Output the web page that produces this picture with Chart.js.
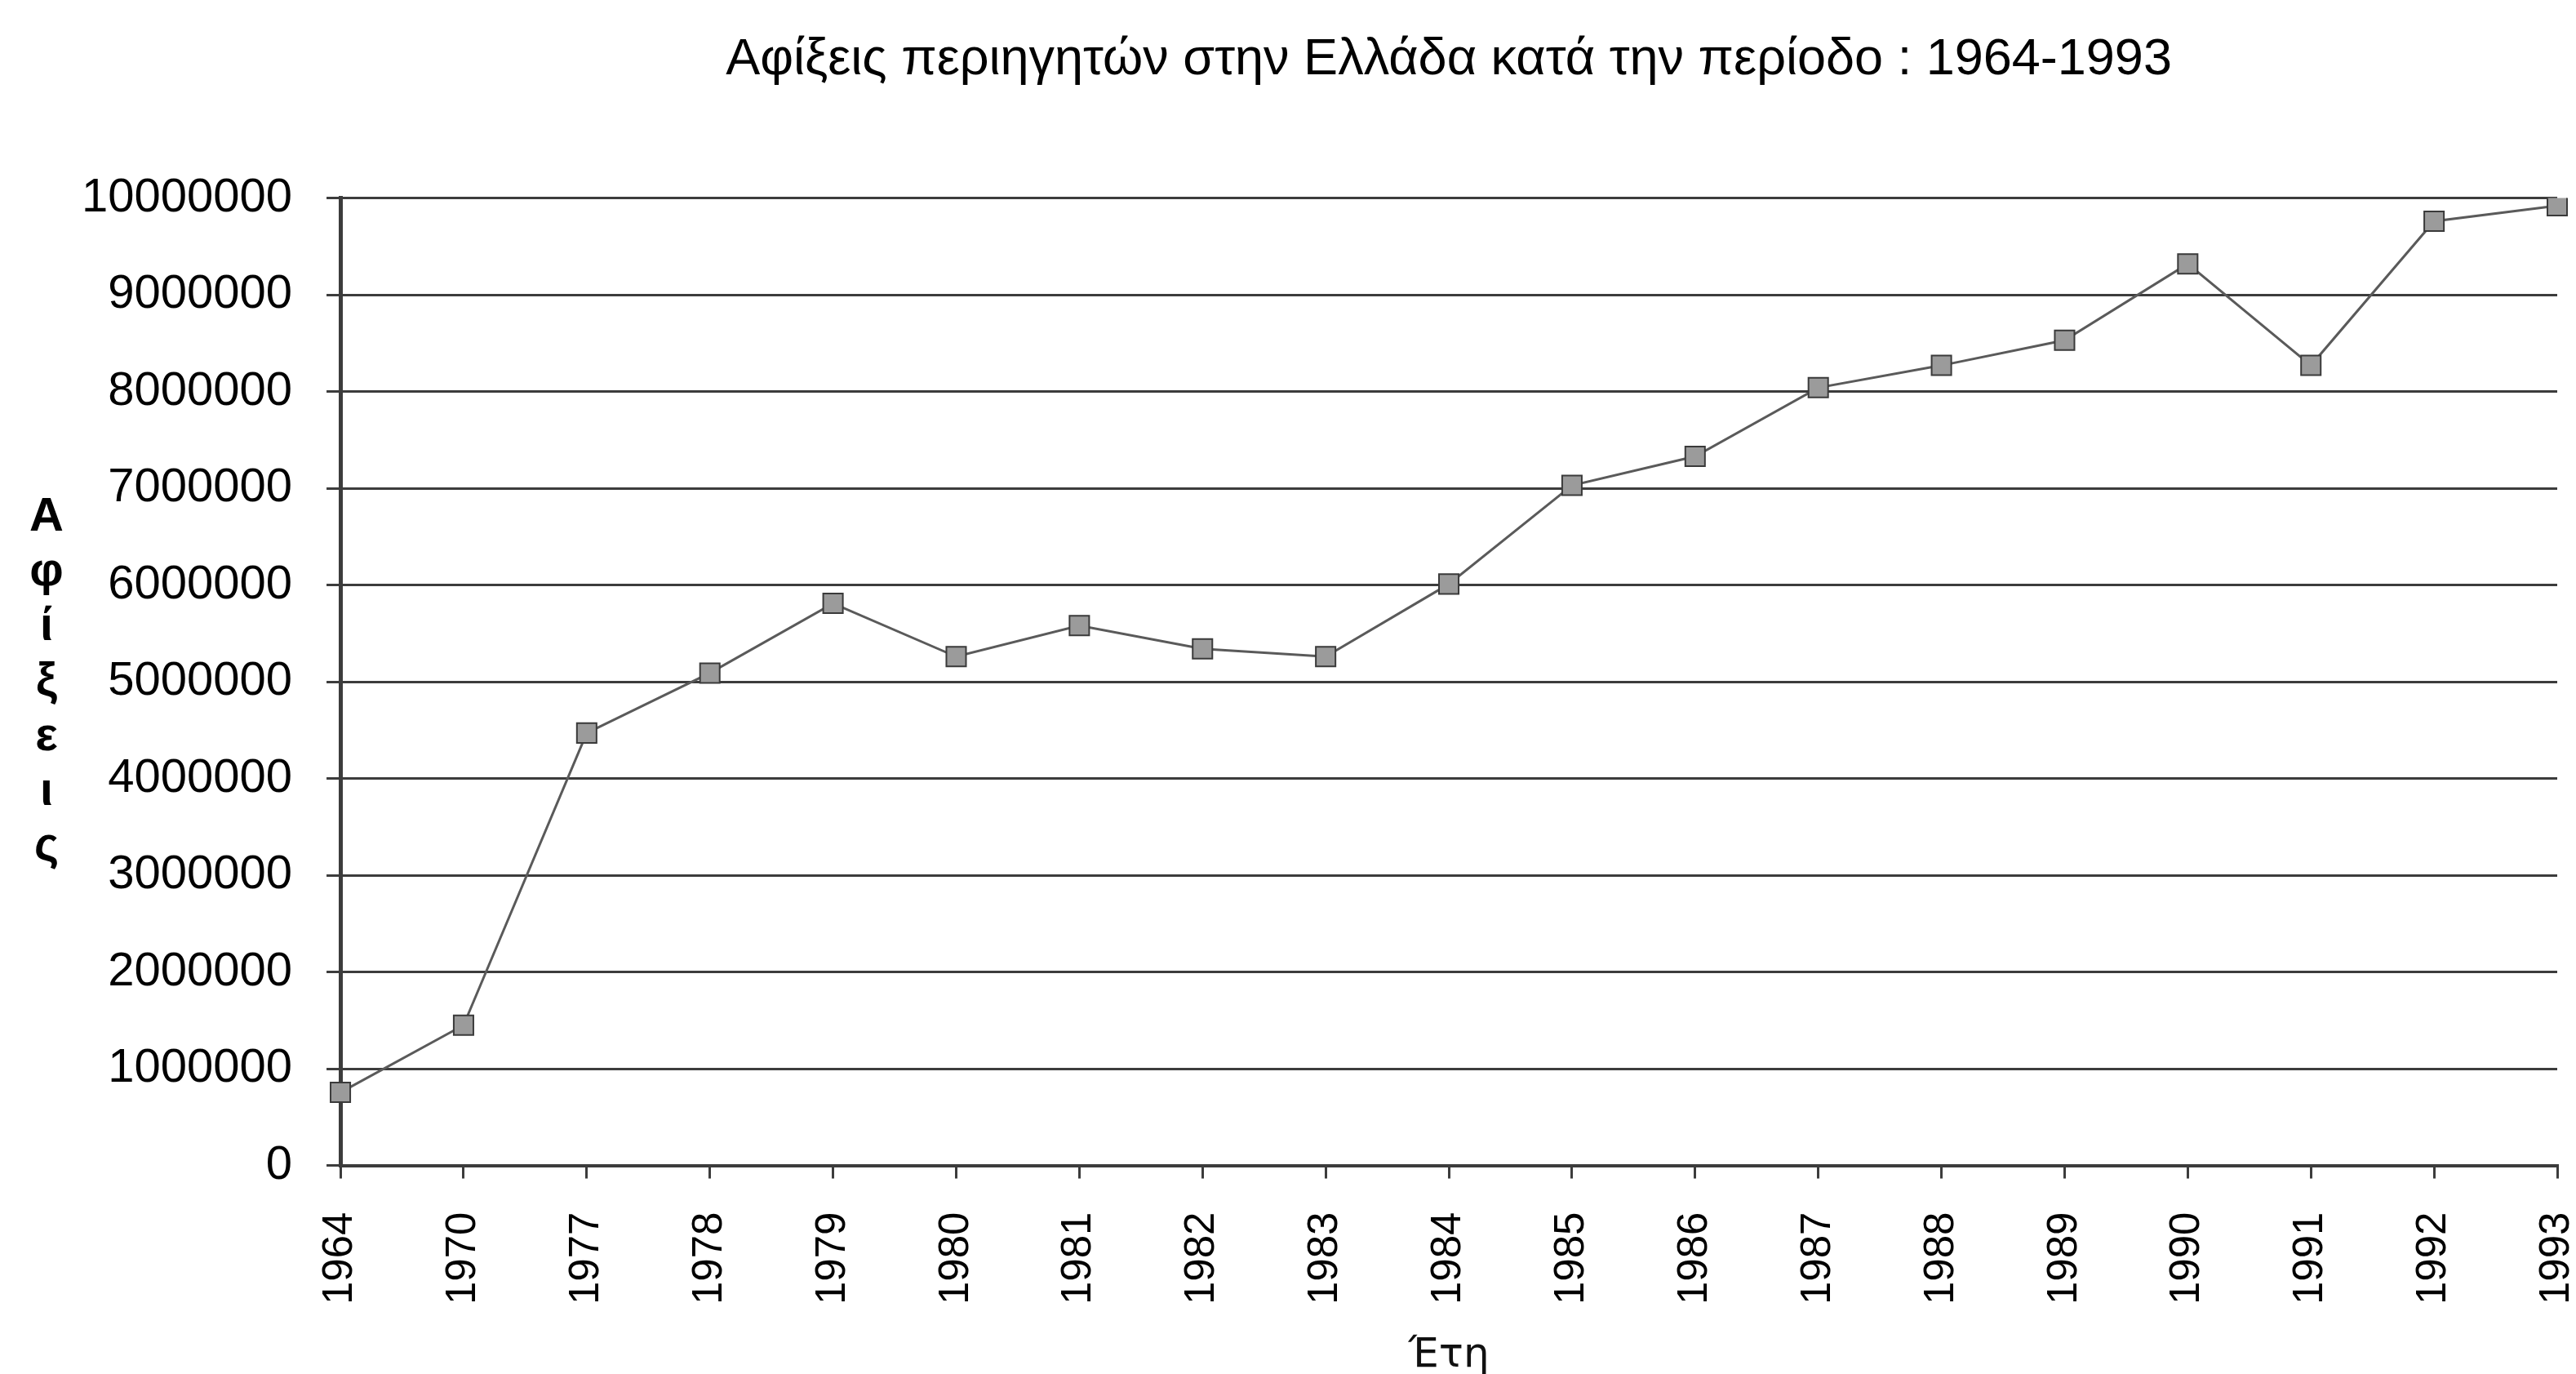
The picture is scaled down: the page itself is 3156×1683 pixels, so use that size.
<!DOCTYPE html>
<html>
<head>
<meta charset="utf-8">
<script src="https://cdn.jsdelivr.net/npm/chart.js@4"></script>
<style>
  html, body { margin: 0; padding: 0; background: #fff; }
  #wrap { width: 3156px; height: 1683px; }
</style>
</head>
<body>
<div id="wrap"><canvas id="myChart"></canvas></div>
<script>
// data
const years = ['1964', '1970', '1977', '1978', '1979', '1980', '1981', '1982', '1983', '1984',
  '1985', '1986', '1987', '1988', '1989', '1990', '1991', '1992', '1993'];
const arrivals = [755000, 1450000, 4470000, 5090000, 5810000, 5260000, 5580000, 5340000, 5260000, 6010000,
  7030000, 7330000, 8040000, 8270000, 8530000, 9320000, 8270000, 9760000, 9920000];
const yTitleLetters = ['Α', 'φ', 'ί', 'ξ', 'ε', 'ι', 'ς'];

const ctx = document.getElementById('myChart');

// y axis title: letters stacked one under the other
const stackedTitle = {
  id: 'stackedTitle',
  afterDraw(chart) {
    const c = chart.ctx;
    const area = chart.chartArea;
    const mid = (area.top + area.bottom) / 2;
    c.save();
    c.fillStyle = '#000';
    c.font = 'bold 58px "Liberation Sans"';
    c.textAlign = 'center';
    c.textBaseline = 'alphabetic';
    yTitleLetters.forEach((ch, i) => {
      c.fillText(ch, 57, mid - 185 + i * 67.2);
    });
    c.restore();
  }
};

new Chart(ctx, {
  type: 'line',
  data: {
    labels: years,
    datasets: [{
      label: 'Αφίξεις',
      data: arrivals,
      borderColor: '#5a5a5a',
      borderWidth: 3,
      pointStyle: 'rect',
      pointRadius: 17,
      pointHoverRadius: 17,
      pointBackgroundColor: '#9b9b9b',
      pointBorderColor: '#3a3a3a',
      pointBorderWidth: 2,
      tension: 0
    }]
  },
  options: {
    responsive: true,
    maintainAspectRatio: false,
    animation: false,
    layout: { padding: { left: 58, right: 23, top: 0, bottom: 0 } },
    plugins: {
      legend: { display: false },
      tooltip: { enabled: false },
      title: {
        display: true,
        fullSize: false,
        text: 'Αφίξεις περιηγητών στην Ελλάδα κατά την περίοδο : 1964-1993',
        color: '#000',
        font: { family: '"Liberation Sans"', size: 63, weight: 'normal', lineHeight: 1.2 },
        padding: { top: 36, bottom: 131 }
      }
    },
    scales: {
      x: {
        grid: { drawOnChartArea: false, tickLength: 16, color: '#3c3c3c', lineWidth: 3 },
        border: { color: '#3c3c3c', width: 4 },
        ticks: {
          color: '#000',
          font: { family: '"Liberation Sans"', size: 51 },
          minRotation: 90,
          maxRotation: 90,
          autoSkip: false,
          padding: 41
        },
        title: {
          display: true,
          text: 'Έτη',
          color: '#111',
          font: { family: '"DejaVu Sans"', size: 50, lineHeight: 0.88 },
          padding: { top: 0, bottom: 0 }
        },
        // rotated labels should not push the plot inwards
        afterFit: scale => { scale.paddingLeft = 0; scale.paddingRight = 0; }
      },
      y: {
        min: 0,
        max: 10000000,
        grid: { color: '#3c3c3c', lineWidth: 3, tickLength: 17 },
        border: { color: '#3c3c3c', width: 5 },
        ticks: {
          stepSize: 1000000,
          color: '#000',
          font: { family: '"Liberation Sans"', size: 58 },
          padding: 42,
          callback: v => String(v)
        }
      }
    }
  },
  plugins: [stackedTitle]
});
</script>
</body>
</html>
